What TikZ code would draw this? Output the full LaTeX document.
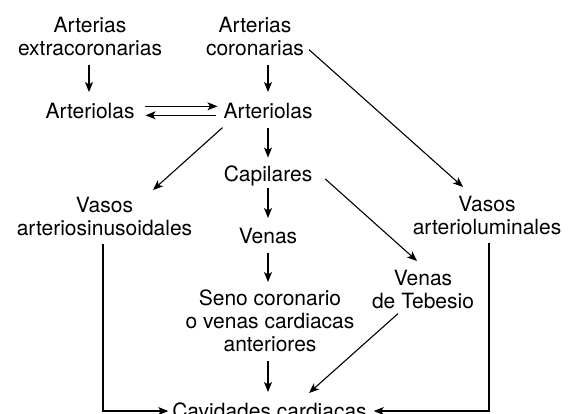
\documentclass[tikz,border=0pt]{standalone}
\usepackage{fontspec}
\setmainfont{TeX Gyre Heros}
\usetikzlibrary{arrows.meta,calc}
\begin{document}
\begin{tikzpicture}[x=1pt,y=-1pt,
  lbl/.style={inner sep=0pt,outer sep=0pt,anchor=north,align=center,
    font=\fontsize{21}{23}\selectfont},
  arr/.style={line width=1.1pt,-{Stealth[length=10pt,width=8pt,inset=2.5pt]}}]
\clip (0,0) rectangle (569,413);
\node[lbl] (ext) at (90,17) {Arterias\\extracoronarias};
\node[lbl] (cor) at (255,17) {Arterias\\coronarias};
\node[lbl] (arl) at (90,103) {Arteriolas};
\node[lbl] (arr) at (268,103) {Arteriolas};
\node[lbl] (cap) at (268,165.5) {Capilares};
\node[lbl] (ven) at (268,228) {Venas};
\node[lbl] (seno) at (270,290) {Seno coronario\\o venas cardiacas\\anteriores};
\node[lbl] (cav) at (269.5,403) {Cavidades cardiacas};
\node[lbl] (vas) at (104.5,197) {Vasos\\arteriosinusoidales};
\node[lbl] (val) at (487,196) {Vasos\\arterioluminales};
\node[lbl] (teb) at (423,270) {Venas\\de Tebesio};
% vertical arrows
\draw[arr] ([shift={(-1,9)}]ext.south) -- ([shift={(-1,-11)}]arl.north);
\draw[arr] ([yshift=-9pt]arr.north |- cor.south) -- ([yshift=11pt]arr.north);
\draw[arr] ([yshift=-9pt]arr.south) -- ([yshift=8pt]cap.north);
\draw[arr] ([yshift=-2.5pt]cap.south) -- ([yshift=10pt]ven.north);
\draw[arr] ([yshift=-9pt]ven.south) -- ([yshift=8pt]ven.south |- seno.north);
\draw[arr] ([yshift=-9pt]ven.south |- seno.south) -- ([yshift=11pt]ven.south |- cav.north);
% double arrows
\draw[arr] ([shift={(10,-4.5)}]arl.east) -- ([shift={(-6,-4.5)}]arr.west);
\draw[arr] ([shift={(-8,4.5)}]arr.west) -- ([shift={(11,4.5)}]arl.east);
% diagonals
\draw[arr] ([shift={(-1,9)}]arr.south west) -- ([shift={(48.5,-7)}]vas.north);
\draw[arr] ([shift={(5,-6)}]cor.south east) -- ([shift={(-24,-9)}]val.north);
\draw[arr] ([shift={(13,3.3)}]cap.east) -- ([shift={(-6,-9)}]teb.north);
\draw[arr] ([shift={(-25,5)}]teb.south) -- ([shift={(39.5,-10)}]cav.north);
% elbows
\draw[arr] ([shift={(-1.5,8)}]vas.south) |- ([xshift=-4pt]cav.west);
\draw[arr] ([shift={(2,8)}]val.south) |- ([xshift=7pt]cav.east);
\end{tikzpicture}
\end{document}
